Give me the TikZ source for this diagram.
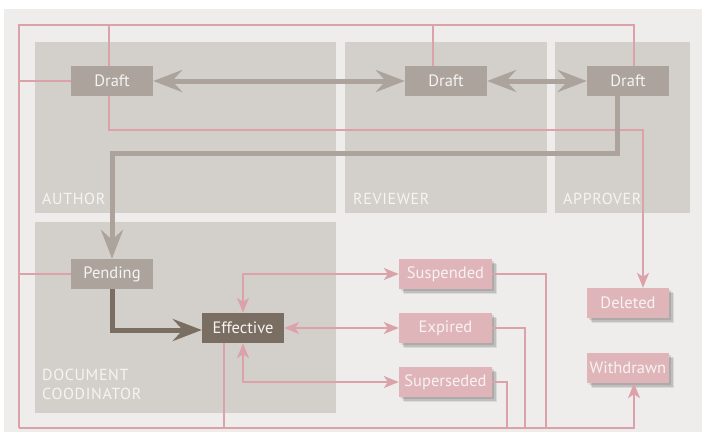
\documentclass[tikz,border=0pt]{standalone}
\usepackage{fontspec}
\setmainfont{PT Sans}
\usetikzlibrary{arrows.meta,shadows}
\definecolor{paper}{HTML}{EEEDEB}
\definecolor{lane}{HTML}{D3D0CB}
\definecolor{stone}{HTML}{ABA39C}
\definecolor{umber}{HTML}{7A6E63}
\definecolor{rose}{HTML}{DFB5BA}
\definecolor{roseline}{HTML}{DBA3A9}
\definecolor{chalk}{HTML}{F7F3F1}
\begin{document}
\begin{tikzpicture}[x=1pt,y=-1pt,font=\fontsize{16.5}{18}\selectfont,
	state/.style={fill=stone,text=chalk,minimum width=82pt,minimum height=30pt,inner sep=0pt},
	final/.style={state,fill=rose,minimum width=93pt,
		drop shadow={shadow xshift=5pt,shadow yshift=-5pt,opacity=.08,fill=black},
		drop shadow={shadow xshift=3.5pt,shadow yshift=-3.5pt,opacity=.12,fill=black},
		drop shadow={shadow xshift=2pt,shadow yshift=-2pt,opacity=.1,fill=black}},
	lanename/.style={text=chalk,inner sep=0pt,align=left,
		font=\fontsize{16}{19}\selectfont\addfontfeatures{LetterSpace=4}},
	link/.style={draw=roseline,line width=1.5pt},
	flow/.style={draw=stone,line width=5pt},
	tip/.style={-{Stealth[length=15pt,width=12pt,inset=4pt]}},
	bitip/.style={{Stealth[length=15pt,width=12pt,inset=4pt]}-{Stealth[length=15pt,width=12pt,inset=4pt]}},
	bigtip/.style={-{Stealth[length=29pt,width=22pt,inset=10pt]}},
	bigbitip/.style={{Stealth[length=29pt,width=22pt,inset=10pt]}-{Stealth[length=29pt,width=22pt,inset=10pt]}}]
	\useasboundingbox (0,0) rectangle (702,432);
	\fill[paper] (4,9) rectangle (702,432);
	\foreach \xa/\ya/\xb/\yb in {35/42/336/213, 345/42/547/213, 555/42/690/213, 35/222/336/413}{
		\fill[lane] (\xa,\ya) rectangle (\xb,\yb);
	}
	\node[lanename,anchor=base west] (author) at (42,204) {AUTHOR};
	\node[lanename,anchor=base west] (reviewer) at (353,204) {REVIEWER};
	\node[lanename,anchor=base west] (approver) at (563,204) {APPROVER};
	\node[lanename,anchor=north west] (coord) at (42,369) {DOCUMENT\\COODINATOR};
	% states
	\node[state] (d1) at (112,81) {Draft};
	\node[state] (d2) at (446,81) {Draft};
	\node[state] (d3) at (628,81) {Draft};
	\node[state] (pend) at (112,274) {Pending};
	\node[state,fill=umber] (eff) at (243,328) {Effective};
	\node[final] (susp) at (445.5,274) {Suspended};
	\node[final] (expi) at (445.5,328) {Expired};
	\node[final] (supe) at (445.5,382) {Superseded};
	\node[final,minimum width=82pt] (dele) at (628,303) {Deleted};
	\node[final,minimum width=82pt] (with) at (628,368) {Withdrawn};
	\path (19,25) coordinate (railtop) (19,428) coordinate (railbot);
	% withdraw rail
	\draw[link] ([xshift=6]d3.north) |- (railtop) -- (railbot);
	\draw[link,tip] (railbot) -| ([xshift=6]with.south);
	\draw[link] ([xshift=-13]d2.north) -- ([xshift=-13]d2.north |- railtop)
		([xshift=-3]d1.north) -- ([xshift=-3]d1.north |- railtop)
		(d1.west) -- (d1.west -| railtop) (pend.west) -- (pend.west -| railtop)
		([xshift=-19]eff.south) -- ([xshift=-19]eff.south |- railbot)
		(susp.east) -| (546,428) (expi.east) -| (525,428) (supe.east) -| (507,428);
	\draw[link,tip] ([xshift=-3]d1.south) -- ++(0,34) -| ([xshift=15]dele.north);
	\draw[link,bitip] (susp.west) -| (eff.north);
	\draw[link,bitip] (eff.east) -- (expi.west);
	\draw[link,bitip] (eff.south) |- (supe.west);
	% review loop
	\draw[flow,bigbitip] (d1) -- (d2);
	\draw[flow,bigbitip] (d2) -- (d3);
	\draw[flow,bigtip] ([xshift=-11]d3.south) -- ++(0,57) -| (pend.north);
	\draw[flow,draw=umber,bigtip] (pend.south) |- ([yshift=-2]eff.west);
\end{tikzpicture}
\end{document}
